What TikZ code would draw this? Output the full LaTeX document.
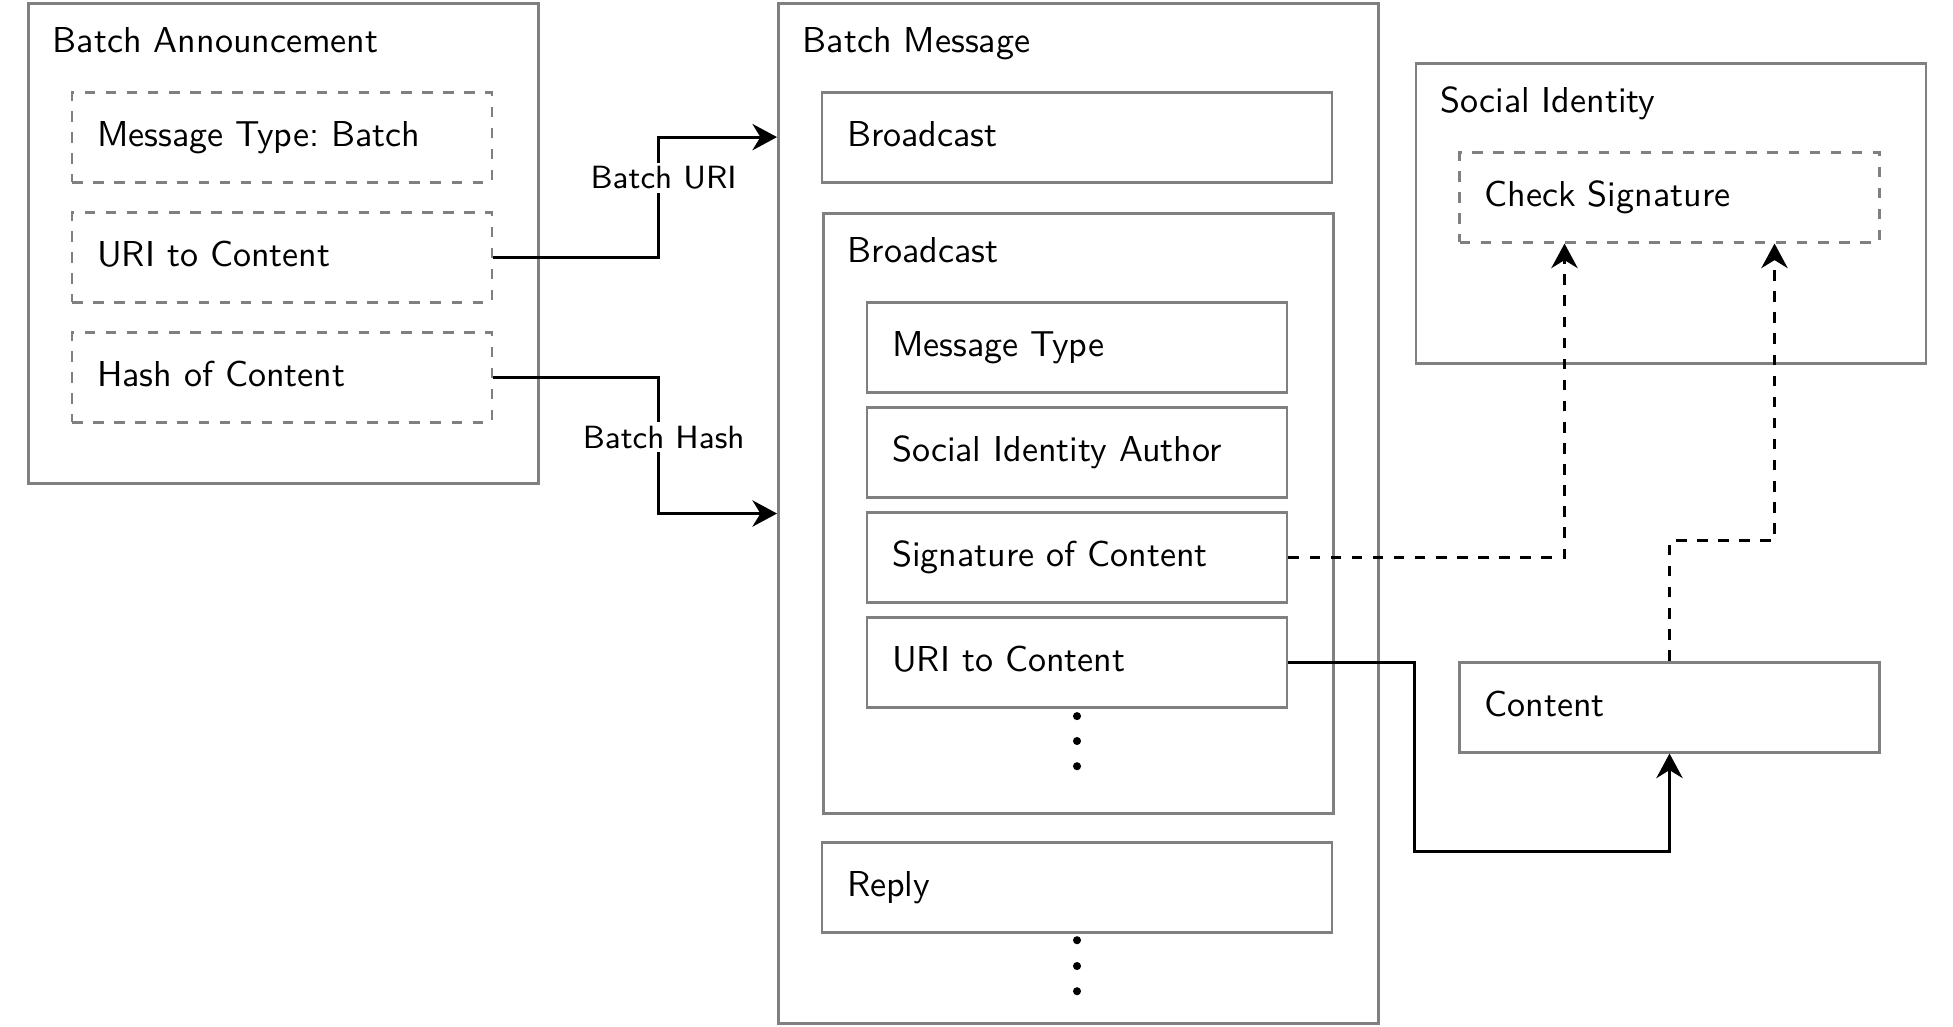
\documentclass[tikz,border=0pt]{standalone}
\usepackage{tikz}
\usetikzlibrary{arrows.meta}
\renewcommand{\familydefault}{\sfdefault}
\frenchspacing

\begin{document}
\begin{tikzpicture}[x=0.3cm,y=-0.3cm,
  every node/.style={font=\fontsize{10.25}{12.3}\selectfont},
  frame/.style={draw=gray,thick,inner sep=0pt,anchor=north west},
  box/.style={draw=gray,thick,inner xsep=0.25cm,minimum height=0.9cm,text width=#1,align=left,text height=1.5ex,text depth=.25ex},
  dbox/.style={box=#1,dashed},
  title/.style={inner sep=0pt,anchor=base west},
  lbl/.style={fill=white,font=\fontsize{9.15}{11}\selectfont,inner sep=1pt,xshift=1.5pt},
  conn/.style={thick,-{Stealth[length=7pt,width=7.5pt]}},
  dconn/.style={conn,dashed}]
  \useasboundingbox (-0.9,-0.07) rectangle (64.2,34.13);

  \node[frame,minimum width=5.1cm,minimum height=4.8cm] (ba) at (0,0) {};
  \node[title] (batitle) at (0.84,1.67) {Batch Announcement};
  \node[dbox=3.7cm] (mtype) at (8.5,4.5) {Message Type: Batch};
  \node[dbox=3.7cm] (uri) at (8.5,8.5) {URI to Content};
  \node[dbox=3.7cm] (hash) at (8.5,12.5) {Hash of Content};

  \node[frame,minimum width=6cm,minimum height=10.2cm] (bm) at (25,0) {};
  \node[title] (bmtitle) at (25.84,1.67) {Batch Message};
  \node[box=4.6cm] (bcast) at (35,4.5) {Broadcast};
  \node[frame,minimum width=5.1cm,minimum height=6cm] (bcbox) at (26.5,7) {};
  \node[title] (bctitle) at (27.34,8.67) {Broadcast};
  \node[box=3.7cm] (msgtype) at (35,11.5) {Message Type};
  \node[box=3.7cm] (author) at (35,15) {Social Identity Author};
  \node[box=3.7cm] (sig) at (35,18.5) {Signature of Content};
  \node[box=3.7cm] (curi) at (35,22) {URI to Content};
  \foreach \y in {23.8,24.63,25.47} \fill (35,\y) circle (1.15pt);
  \node[box=4.6cm] (reply) at (35,29.5) {Reply};
  \foreach \y in {31.27,32.13,32.97} \fill (35,\y) circle (1.15pt);

  \node[frame,minimum width=5.1cm,minimum height=3cm] (si) at (46.25,2) {};
  \node[title] (sititle) at (47.09,3.67) {Social Identity};
  \node[dbox=3.7cm] (check) at (54.75,6.5) {Check Signature};
  \node[box=3.7cm] (content) at (54.75,23.5) {Content};

  \draw[conn] (uri.east) -- ++(5.5,0) |- node[lbl,pos=0.33] (buri) {Batch URI} (bm.west |- bcast.west);
  \draw[conn] (hash.east) -- ++(5.5,0) |- node[lbl,pos=0.22] (bhash) {Batch Hash} (bm.west |- bcbox.center);
  \draw[dconn] (sig.east) -| ([xshift=-1.05cm]check.south);
  \draw[dconn] (content.north) -- ++(0,-4) -| ([xshift=1.05cm]check.south);
  \draw[conn] (curi.east) -- (curi.east -| si.west) -- ++(0,6.3) -| (content.south);
\end{tikzpicture}
\end{document}
